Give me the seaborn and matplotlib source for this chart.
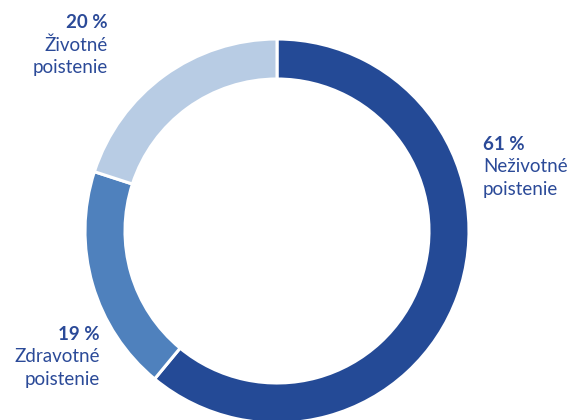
import matplotlib
matplotlib.use("Agg")
import matplotlib.pyplot as plt
import seaborn as sns

# Share of premiums by insurance segment
segments = ["Neživotné\npoistenie", "Zdravotné\npoistenie", "Životné\npoistenie"]
shares = [61, 19, 20]
colors = ["#244a96", "#4f81bd", "#b8cce4"]
text_color = "#2b4a98"

sns.set_theme(style="white")
plt.rcParams["font.family"] = ["Lato", "DejaVu Sans"]

W, H = 571, 420
cx, cy, R = 277, 231, 192  # ring centre and outer radius in pixels

fig = plt.figure(figsize=(W / 100, H / 100), dpi=100)
ax = fig.add_axes([0, 0, 1, 1])

ax.pie(
    shares,
    colors=colors,
    startangle=90,
    counterclock=False,
    radius=1.0,
    wedgeprops=dict(width=40 / R, edgecolor="white", linewidth=2.2),
)

ax.set_xlim(-cx / R, (W - cx) / R)
ax.set_ylim(-(H - cy) / R, cy / R)
ax.set_aspect("equal")
ax.axis("off")


def px(x, y):
    return (x - cx) / R, (cy - y) / R


# label anchors: (x, y of first line centre, alignment)
anchors = [(483, 144, "left"), (100, 334, "right"), (108, 23, "right")]
line_gap = 22.5
fs = 13.5

for seg, val, (x, y, ha) in zip(segments, shares, anchors):
    ax.text(*px(x, y), f"{val} %", ha=ha, va="center", fontsize=fs,
            fontweight="bold", color=text_color)
    for i, line in enumerate(seg.split("\n"), start=1):
        ax.text(*px(x, y + i * line_gap), line, ha=ha, va="center",
                fontsize=fs, color=text_color)

fig.savefig("out.png", dpi=100)
